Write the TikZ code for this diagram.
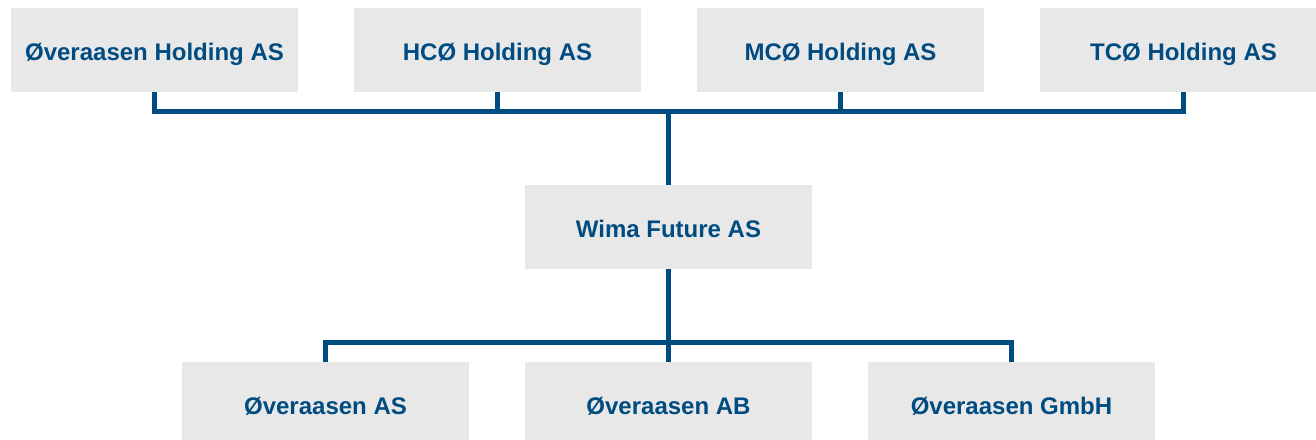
\documentclass[tikz,border=0pt]{standalone}
\usepackage{fontspec}
\setmainfont{Liberation Sans}
\definecolor{wimablue}{RGB}{0, 76, 129}
\definecolor{wimagrey}{RGB}{232, 232, 232}
\usepackage{tikz}
\usetikzlibrary{positioning}

\begin{document}
\begin{tikzpicture}[
        x=1pt, y=-1pt,
        box/.style={fill=wimagrey, minimum width=287pt, minimum height=84pt, inner sep=0pt, text height=22pt, text depth=2pt, align=center, text=wimablue, font=\fontsize{24}{28}\selectfont\bfseries},
        link/.style={line width=5pt, color=wimablue}
      ]
        \useasboundingbox (0, 0) rectangle (1316, 439);
        \clip (0, 0) rectangle (1316, 439);
        \node[box] (ovh)    at (154.5, 50)  {Øveraasen Holding AS};
        \node[box] (hco)    at (497.5, 50)  {HCØ Holding AS};
        \node[box] (mco)    at (840.5, 50)  {MCØ Holding AS};
        \node[box] (tco)    at (1183.5, 50) {TCØ Holding AS};
        \node[box] (wima)   at (668.5, 227) {Wima Future AS};
        \node[box] (ovas)   at (325.5, 404) {Øveraasen AS};
        \node[box] (ovab)   at (668.5, 404) {Øveraasen AB};
        \node[box] (ovgmbh) at (1011.5, 404) {Øveraasen GmbH};
        \coordinate (upper) at (668.5, 111);
        \coordinate (lower) at (668.5, 342.5);
        \draw[link] (ovh.south) |- (upper);
        \draw[link] (hco.south) |- (upper);
        \draw[link] (mco.south) |- (upper);
        \draw[link] (tco.south) |- (upper);
        \draw[link] (upper) -- (wima.north);
        \draw[link] (wima.south) -- (ovab.north);
        \draw[link] (lower) -| (ovas.north);
        \draw[link] (lower) -| (ovgmbh.north);
      \end{tikzpicture}
\end{document}
